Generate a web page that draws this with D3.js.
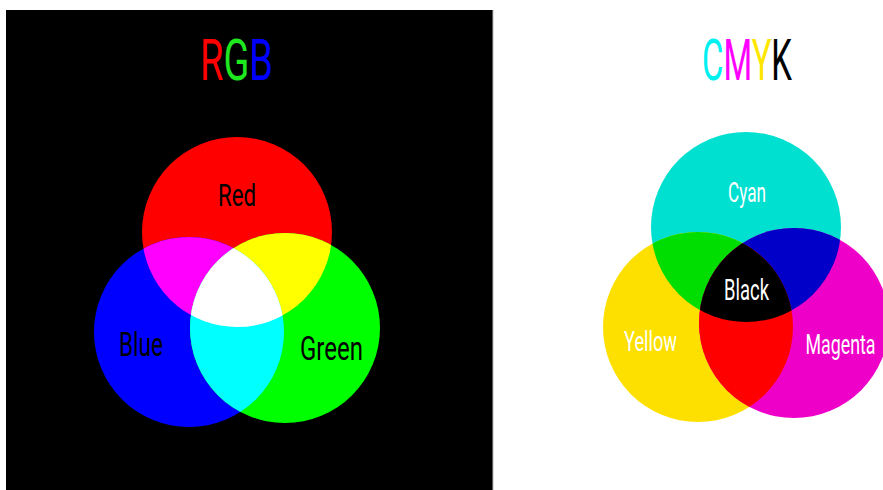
<!DOCTYPE html>
<html><head><meta charset="utf-8">
<script src="https://cdn.jsdelivr.net/npm/d3@7"></script>
<style>html,body{margin:0;padding:0;background:#fff;}svg{display:block;}</style>
</head><body>
<script>
// ---- data ----
const rgbTitle = "RGB";
const rgbTitleColors = ["#ff0000","#1ee81e","#0000ff"];
const rgbLabels = ["Red","Blue","Green"];
const rgbColors = ["#ff0000","#0000ff","#00ff00"];
const rgbPairColors = ["#ff00ff","#ffff00","#00ffff"]; // R∩B, R∩G, B∩G
const rgbCenterColor = "#ffffff";
const rgbLabelColor = "#000000";

const cmykTitle = "CMYK";
const cmykTitleColors = ["#00f0f0","#ff00ff","#ffe600","#000000"];
const cmykLabels = ["Cyan","Yellow","Magenta"];
const cmykColors = ["#00e0d0","#fde000","#ef00c8"];
const cmykPairColors = ["#00dd00","#0000c8","#ff0000"]; // C∩Y, C∩M, Y∩M
const cmykCenterColor = "#000000";
const cmykCenterLabel = "Black";
const cmykLabelColor = "#ffffff";

// ---- layout (not data) ----
const W = 883, H = 490;
const R = 95;
const rgbLayout = {
  circles: [[237,232],[189,332],[285,328]],
  labels: [[237,206,38,32],[141,356,44,34],[331.5,360,63,34]],
  title: [236.5,80,73,58]
};
const cmykLayout = {
  circles: [[746,227],[698,327],[794,323]],
  labels: [[747,202,38,28],[650.5,351,53,28],[840.5,354,70,27]],
  center: [746.5,300,45,29],
  title: [747,80,90,58]
};
const pairIdx = [[0,1],[0,2],[1,2]];

const svg = d3.select("body").append("svg").attr("width",W).attr("height",H);
const defs = svg.append("defs");
svg.append("rect").attr("x",0).attr("y",0).attr("width",W).attr("height",H).attr("fill","#fff");
svg.append("rect").attr("x",6).attr("y",10).attr("width",487).attr("height",H-10).attr("fill","#000");
svg.append("line").attr("x1",493).attr("x2",493).attr("y1",10).attr("y2",H).attr("stroke","#bbb").attr("stroke-width",1);

const font = "Roboto, 'Liberation Sans', sans-serif";

function drawVenn(prefix, layout, colors, pairColors, centerColor){
  const g = svg.append("g");
  const circ = layout.circles;
  circ.forEach((c,i)=>{
    defs.append("clipPath").attr("id",prefix+"c"+i)
      .append("circle").attr("cx",c[0]).attr("cy",c[1]).attr("r",R);
  });
  defs.append("clipPath").attr("id",prefix+"p01")
    .attr("clip-path","url(#"+prefix+"c0)")
    .append("circle").attr("cx",circ[1][0]).attr("cy",circ[1][1]).attr("r",R);
  g.selectAll("circle.base").data(colors).join("circle")
    .attr("cx",(d,i)=>circ[i][0]).attr("cy",(d,i)=>circ[i][1]).attr("r",R).attr("fill",d=>d);
  pairIdx.forEach((p,k)=>{
    g.append("circle").attr("cx",circ[p[1]][0]).attr("cy",circ[p[1]][1]).attr("r",R)
      .attr("fill",pairColors[k]).attr("clip-path","url(#"+prefix+"c"+p[0]+")");
  });
  g.append("g").attr("clip-path","url(#"+prefix+"p01)")
    .append("circle").attr("cx",circ[2][0]).attr("cy",circ[2][1]).attr("r",R)
    .attr("fill",centerColor);
}
drawVenn("rgb", rgbLayout, rgbColors, rgbPairColors, rgbCenterColor);
drawVenn("cmyk", cmykLayout, cmykColors, cmykPairColors, cmykCenterColor);

// condensed text: natural glyphs squeezed horizontally to the wanted width
function label(txt, spec, color){
  const t = svg.append("text").attr("x",0).attr("y",0)
    .attr("text-anchor","middle").attr("font-family",font).attr("font-size",spec[3])
    .attr("fill",color).text(txt);
  const natural = t.node().getComputedTextLength();
  const s = spec[2]/natural;
  t.attr("transform","translate("+spec[0]+","+spec[1]+") scale("+s+",1)");
  return t;
}
rgbLabels.forEach((t,i)=>label(t, rgbLayout.labels[i], rgbLabelColor));
cmykLabels.forEach((t,i)=>label(t, cmykLayout.labels[i], cmykLabelColor));
label(cmykCenterLabel, cmykLayout.center, cmykLabelColor);

function title(id, txt, colors, layout){
  const t = label(txt, layout.title, "url(#"+id+")");
  const node = t.node();
  const n = txt.length;
  const b = [];
  for (let i=0;i<n;i++) b.push(node.getStartPositionOfChar(i).x);
  b.push(node.getEndPositionOfChar(n-1).x);
  const grad = defs.append("linearGradient").attr("id",id)
    .attr("gradientUnits","userSpaceOnUse")
    .attr("x1",b[0]).attr("x2",b[n]).attr("y1",0).attr("y2",0);
  const span = b[n]-b[0];
  colors.forEach((c,i)=>{
    grad.append("stop").attr("offset",(b[i]-b[0])/span).attr("stop-color",c);
    grad.append("stop").attr("offset",(b[i+1]-b[0])/span).attr("stop-color",c);
  });
}
title("rgbGrad", rgbTitle, rgbTitleColors, rgbLayout);
title("cmykGrad", cmykTitle, cmykTitleColors, cmykLayout);
</script>
</body></html>
